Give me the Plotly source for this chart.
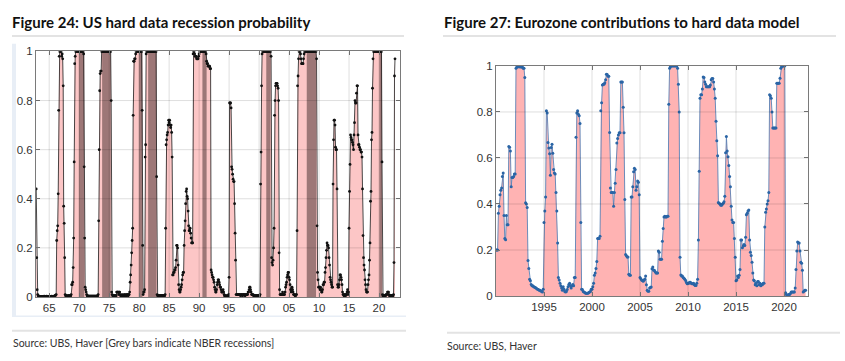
import numpy as np
import plotly.graph_objects as go

W, H = 845, 361

# ---------------- data ----------------
us_first_year = 1962
us_first_month = 11
us_prob = [
    0.44, 0.16,
    0.03, 0.01, 0.005, 0.003, 0.002, 0.002, 0.002, 0.002, 0.002, 0.002, 0.002, 0.002,
    0.002, 0.002, 0.003, 0.002, 0.002, 0.002, 0.002, 0.003, 0.002, 0.002, 0.002, 0.002,
    0.002, 0.002, 0.002, 0.002, 0.002, 0.003, 0.002, 0.002, 0.002, 0.002, 0.003, 0.004,
    0.005, 0.008, 0.01, 0.23, 0.27, 0.29, 0.42, 0.76, 0.98, 1.0, 1.0, 1.0,
    1.0, 0.98, 0.99, 0.97, 0.86, 0.37, 0.30, 0.16, 0.01, 0.005, 0.004, 0.004,
    0.004, 0.004, 0.004, 0.005, 0.005, 0.004, 0.004, 0.005, 0.01, 0.05, 0.05, 0.06,
    0.12, 0.24, 0.55, 0.95, 0.98, 1.0, 1.0, 1.0, 1.0, 1.0, 1.0, 1.0,
    1.0, 1.0, 1.0, 1.0, 1.0, 1.0, 1.0, 1.0, 1.0, 0.99, 0.53, 0.24,
    0.04, 0.03, 0.02, 0.01, 0.005, 0.004, 0.003, 0.003, 0.003, 0.003, 0.003, 0.003,
    0.003, 0.003, 0.003, 0.003, 0.003, 0.003, 0.003, 0.003, 0.003, 0.003, 0.003, 0.003,
    0.003, 0.005, 0.01, 0.31, 0.60, 0.84, 0.91, 0.92, 0.92, 1.0, 1.0, 1.0,
    1.0, 1.0, 1.0, 1.0, 1.0, 1.0, 1.0, 1.0, 1.0, 1.0, 1.0, 1.0,
    1.0, 1.0, 1.0, 1.0, 0.80, 0.02, 0.01, 0.005, 0.005, 0.005, 0.005, 0.005,
    0.005, 0.005, 0.005, 0.02, 0.02, 0.02, 0.02, 0.01, 0.02, 0.02, 0.01, 0.005,
    0.005, 0.01, 0.005, 0.005, 0.01, 0.005, 0.005, 0.01, 0.01, 0.005, 0.005, 0.01,
    0.01, 0.01, 0.005, 0.01, 0.01, 0.02, 0.06, 0.09, 0.13, 0.18, 0.23, 0.28,
    0.74, 0.96, 0.96, 0.97, 0.97, 0.99, 1.0, 1.0, 1.0, 1.0, 1.0, 1.0,
    1.0, 1.0, 1.0, 1.0, 1.0, 1.0, 0.76, 0.21, 0.01, 0.02, 0.02, 0.03,
    0.57, 0.62, 0.99, 1.0, 1.0, 1.0, 1.0, 1.0, 1.0, 1.0, 1.0, 1.0,
    1.0, 1.0, 1.0, 1.0, 1.0, 1.0, 1.0, 1.0, 1.0, 1.0, 1.0, 0.49,
    0.01, 0.005, 0.005, 0.005, 0.005, 0.005, 0.005, 0.005, 0.005, 0.005, 0.005, 0.005,
    0.005, 0.005, 0.005, 0.005, 0.01, 0.28, 0.62, 0.64, 0.66, 0.67, 0.70, 0.72,
    0.71, 0.72, 0.70, 0.69, 0.70, 0.67, 0.57, 0.09, 0.09, 0.10, 0.10, 0.11,
    0.11, 0.12, 0.15, 0.21, 0.21, 0.20, 0.13, 0.05, 0.03, 0.02, 0.02, 0.03,
    0.04, 0.05, 0.07, 0.09, 0.10, 0.10, 0.21, 0.27, 0.31, 0.38, 0.43, 0.44,
    0.41, 0.40, 0.35, 0.29, 0.27, 0.27, 0.28, 0.26, 0.24, 0.22, 0.22, 0.22,
    0.99, 1.0, 1.0, 0.99, 0.98, 0.98, 0.98, 0.97, 0.97, 0.97, 0.97, 0.98,
    0.99, 1.0, 1.0, 1.0, 1.0, 1.0, 1.0, 1.0, 1.0, 1.0, 1.0, 1.0,
    1.0, 1.0, 0.99, 0.96, 0.95, 0.95, 0.94, 0.94, 0.94, 0.94, 0.93, 0.93,
    0.11, 0.10, 0.09, 0.08, 0.08, 0.07, 0.06, 0.04, 0.03, 0.02, 0.02, 0.03,
    0.05, 0.06, 0.07, 0.07, 0.06, 0.05, 0.04, 0.04, 0.03, 0.02, 0.02, 0.02,
    0.03, 0.02, 0.01, 0.005, 0.004, 0.004, 0.004, 0.004, 0.004, 0.004, 0.004, 0.01,
    0.08, 0.79, 0.79, 0.79, 0.77, 0.53, 0.52, 0.50, 0.48, 0.47, 0.47, 0.38,
    0.26, 0.15, 0.01, 0.01, 0.01, 0.01, 0.01, 0.01, 0.01, 0.01, 0.01, 0.005,
    0.01, 0.01, 0.01, 0.005, 0.01, 0.01, 0.01, 0.01, 0.005, 0.01, 0.01, 0.01,
    0.01, 0.01, 0.02, 0.02, 0.03, 0.04, 0.04, 0.03, 0.02, 0.01, 0.01, 0.01,
    0.01, 0.005, 0.005, 0.005, 0.005, 0.005, 0.005, 0.005, 0.005, 0.005, 0.005, 0.005,
    0.005, 0.005, 0.01, 0.46, 0.59, 0.86, 0.99, 1.0, 1.0, 1.0, 1.0, 1.0,
    1.0, 1.0, 1.0, 1.0, 1.0, 1.0, 1.0, 1.0, 1.0, 1.0, 1.0, 1.0,
    0.98, 0.16, 0.14, 0.13, 0.15, 0.20, 0.28, 0.74, 0.80, 0.86, 0.87, 0.87,
    0.87, 0.86, 0.85, 0.80, 0.18, 0.03, 0.01, 0.01, 0.01, 0.01, 0.01, 0.02,
    0.01, 0.01, 0.01, 0.01, 0.02, 0.04, 0.05, 0.06, 0.08, 0.09, 0.10, 0.10,
    0.08, 0.07, 0.05, 0.03, 0.02, 0.03, 0.04, 0.03, 0.02, 0.01, 0.01, 0.01,
    0.005, 0.005, 0.01, 0.01, 0.27, 0.86, 0.90, 0.97, 1.0, 1.0, 1.0, 0.99,
    0.97, 0.95, 0.95, 0.95, 0.95, 0.97, 0.99, 1.0, 1.0, 1.0, 1.0, 1.0,
    1.0, 1.0, 1.0, 1.0, 1.0, 1.0, 1.0, 1.0, 1.0, 1.0, 1.0, 1.0,
    1.0, 1.0, 1.0, 1.0, 1.0, 1.0, 1.0, 0.97, 0.29, 0.10, 0.07, 0.04,
    0.04, 0.04, 0.03, 0.04, 0.03, 0.02, 0.02, 0.03, 0.05, 0.05, 0.06, 0.06,
    0.10, 0.12, 0.16, 0.19, 0.22, 0.21, 0.21, 0.20, 0.16, 0.13, 0.08, 0.07,
    0.06, 0.05, 0.04, 0.04, 0.46, 0.64, 0.72, 0.72, 0.70, 0.61, 0.60, 0.60,
    0.44, 0.05, 0.04, 0.04, 0.05, 0.07, 0.09, 0.09, 0.08, 0.07, 0.05, 0.02,
    0.01, 0.01, 0.005, 0.01, 0.01, 0.005, 0.01, 0.01, 0.02, 0.03, 0.01, 0.02,
    0.28, 0.43, 0.54, 0.66, 0.65, 0.64, 0.64, 0.63, 0.62, 0.60, 0.66, 0.71,
    0.80, 0.79, 0.79, 0.83, 0.86, 0.86, 0.66, 0.62, 0.62, 0.61, 0.60, 0.60,
    0.59, 0.59, 0.57, 0.44, 0.25, 0.16, 0.13, 0.11, 0.07, 0.05, 0.03, 0.02,
    0.02, 0.02, 0.05, 0.07, 0.09, 0.15, 0.22, 0.39, 0.43, 0.64, 0.67, 0.85,
    0.97, 1.0, 1.0, 1.0, 1.0, 1.0, 1.0, 1.0, 1.0, 1.0, 1.0, 1.0,
    1.0, 1.0, 1.0, 1.0, 1.0, 1.0, 0.55, 0.01, 0.005, 0.005, 0.005, 0.005,
    0.005, 0.005, 0.01, 0.01, 0.01, 0.02, 0.02, 0.02, 0.01, 0.005, 0.005, 0.005,
    0.005, 0.005, 0.005, 0.005, 0.005, 0.01, 0.14, 0.90, 0.97,
]

nber_start = [1969.95, 1973.83, 1979.95, 1981.5, 1990.55, 2001.2, 2007.95, 2020.05]
nber_end = [1970.85, 1975.25, 1980.55, 1982.9, 1991.25, 2001.9, 2009.5, 2020.5]

us_tick_years = [1965, 1970, 1975, 1980, 1985, 1990, 1995, 2000, 2005, 2010, 2015, 2020]
us_tick_text = ["65", "70", "75", "80", "85", "90", "95", "00", "05", "10", "15", "20"]

ez_first_year = 1990
ez_first_month = 1
ez_prob = [
    0.20, 0.20, 0.20, 0.36, 0.39, 0.44, 0.46, 0.47, 0.52, 0.535, 0.35, 0.25,
    0.245, 0.35, 0.31, 0.31, 0.65, 0.647, 0.63, 0.475, 0.515, 0.515, 0.52, 0.53,
    0.53, 0.99, 1.0, 0.995, 1.0, 1.0, 0.995, 1.0, 0.995, 0.995, 0.99, 0.99,
    0.95, 0.405, 0.40, 0.385, 0.154, 0.12, 0.073, 0.066, 0.05, 0.045, 0.045, 0.04,
    0.039, 0.037, 0.035, 0.032, 0.03, 0.028, 0.025, 0.025, 0.022, 0.021, 0.017, 0.03,
    0.32, 0.37, 0.43, 0.805, 0.796, 0.667, 0.643, 0.618, 0.525, 0.646, 0.66, 0.62,
    0.55, 0.535, 0.53, 0.45, 0.37, 0.23, 0.08, 0.07, 0.055, 0.045, 0.035, 0.025,
    0.04, 0.03, 0.02, 0.017, 0.02, 0.028, 0.04, 0.05, 0.055, 0.045, 0.035, 0.045,
    0.05, 0.045, 0.08, 0.08, 0.69, 0.796, 0.805, 0.79, 0.784, 0.75, 0.32, 0.03,
    0.028, 0.02, 0.017, 0.015, 0.012, 0.012, 0.012, 0.012, 0.015, 0.017, 0.02, 0.03,
    0.03, 0.04, 0.055, 0.09, 0.10, 0.12, 0.15, 0.25, 0.25, 0.25, 0.26, 0.805,
    0.84, 0.917, 0.92, 0.92, 0.927, 0.94, 0.964, 0.963, 0.955, 0.955, 0.711, 0.47,
    0.45, 0.45, 0.45, 0.39, 0.45, 0.49, 0.55, 0.665, 0.685, 0.70, 0.71, 0.71,
    0.93, 0.93, 0.93, 0.82, 0.71, 0.42, 0.18, 0.175, 0.17, 0.17, 0.095, 0.09,
    0.09, 0.43, 0.43, 0.475, 0.54, 0.555, 0.55, 0.46, 0.475, 0.50, 0.495, 0.44,
    0.08, 0.075, 0.07, 0.068, 0.064, 0.07, 0.073, 0.087, 0.049, 0.025, 0.021, 0.021,
    0.035, 0.037, 0.039, 0.119, 0.126, 0.112, 0.112, 0.105, 0.10, 0.10, 0.10, 0.196,
    0.19, 0.16, 0.16, 0.16, 0.238, 0.294, 0.343, 0.347, 0.344, 0.344, 0.347, 0.347,
    0.833, 0.99, 0.997, 1.0, 1.0, 1.0, 1.0, 1.0, 1.0, 1.0, 1.0, 0.99,
    0.92, 0.80, 0.168, 0.091, 0.087, 0.087, 0.081, 0.077, 0.073, 0.067, 0.059, 0.053,
    0.056, 0.056, 0.06, 0.06, 0.056, 0.053, 0.053, 0.056, 0.049, 0.046, 0.046, 0.056,
    0.073, 0.244, 0.542, 0.86, 0.875, 0.875, 0.90, 0.952, 0.95, 0.93, 0.92, 0.91,
    0.91, 0.91, 0.91, 0.91, 0.917, 0.94, 0.945, 0.945, 0.93, 0.90, 0.86, 0.76,
    0.675, 0.61, 0.406, 0.403, 0.40, 0.395, 0.395, 0.40, 0.403, 0.41, 0.434, 0.623,
    0.693, 0.63, 0.605, 0.567, 0.52, 0.475, 0.39, 0.33, 0.32, 0.32, 0.25, 0.168,
    0.066, 0.07, 0.087, 0.081, 0.09, 0.115, 0.244, 0.244, 0.21, 0.217, 0.224, 0.22,
    0.255, 0.353, 0.36, 0.37, 0.374, 0.244, 0.19, 0.176, 0.147, 0.10, 0.07, 0.066,
    0.049, 0.056, 0.045, 0.063, 0.063, 0.049, 0.056, 0.045, 0.05, 0.049, 0.056, 0.056,
    0.30, 0.364, 0.378, 0.40, 0.414, 0.45, 0.875, 0.87, 0.86, 0.80, 0.73, 0.73,
    0.73, 0.73, 0.73, 0.925, 0.925, 0.925, 0.925, 0.946, 0.99, 0.996, 1.0, 1.0,
    1.0, 1.0, 0.014, 0.007, 0.003, 0.005, 0.007, 0.007, 0.011, 0.017, 0.017, 0.017,
    0.017, 0.017, 0.035, 0.115, 0.196, 0.235, 0.23, 0.23, 0.196, 0.147, 0.143, 0.112,
    0.017, 0.021, 0.025, 0.025,
]

ez_tick_years = [1995, 2000, 2005, 2010, 2015, 2020]
ez_tick_text = ["1995", "2000", "2005", "2010", "2015", "2020"]

prob_ticks = [0, 0.2, 0.4, 0.6, 0.8, 1]
prob_tick_text = ["0", "0.2", "0.4", "0.6", "0.8", "1"]

assert len(us_prob) == 719, len(us_prob)
assert len(ez_prob) == 388, len(ez_prob)

# monthly time axes (decimal years)
us_x = us_first_year + (us_first_month - 1) / 12 + np.arange(len(us_prob)) / 12
ez_x = ez_first_year + (ez_first_month - 1) / 12 + np.arange(len(ez_prob)) / 12


def px(x):
    return x / W


def py(y):
    return 1 - y / H


fig = go.Figure()

# --- left (US) ---
fig.add_trace(go.Scatter(x=us_x, y=us_prob, mode="none", fill="tozeroy",
                         fillcolor="#fcc6c6", xaxis="x", yaxis="y", hoverinfo="skip"))
rx, ry = [], []
for s, e in zip(nber_start, nber_end):
    rx += [s, e, e, s, s, None]
    ry += [0, 0, 1, 1, 0, None]
fig.add_trace(go.Scatter(x=rx, y=ry, mode="none", fill="toself", fillcolor="#9d7777",
                         xaxis="x", yaxis="y", hoverinfo="skip"))
fig.add_trace(go.Scatter(x=us_x, y=us_prob, mode="lines+markers",
                         line=dict(color="#1a1a1a", width=0.8),
                         marker=dict(color="#111111", size=2.8),
                         xaxis="x", yaxis="y"))

# --- right (Eurozone) ---
fig.add_trace(go.Scatter(x=ez_x, y=ez_prob, mode="none", fill="tozeroy",
                         fillcolor="#ffb3b3", xaxis="x2", yaxis="y2", hoverinfo="skip"))
fig.add_trace(go.Scatter(x=ez_x, y=ez_prob, mode="lines+markers",
                         line=dict(color="#5b82b5", width=0.9),
                         marker=dict(color="#2a65a6", size=3),
                         xaxis="x2", yaxis="y2"))

tick_font = dict(family="Liberation Sans, Arial, sans-serif", size=11.5, color="#333333")
axis_common = dict(showgrid=False, zeroline=False, showline=True, linecolor="#7a7a7a",
                   linewidth=1, mirror="ticks", ticks="inside", ticklen=4,
                   tickcolor="#7a7a7a", tickfont=tick_font, fixedrange=True)

# plot areas in pixels
L = dict(x0=36, x1=400, y0=47, y1=301)
R = dict(x0=496, x1=808, y0=62, y1=300)

fig.update_layout(
    width=W, height=H, margin=dict(l=0, r=0, t=0, b=0),
    paper_bgcolor="white", plot_bgcolor="white", showlegend=False,
    xaxis=dict(domain=[px(L["x0"]), px(L["x1"])], range=[1962.8, 2023.5],
               tickvals=us_tick_years, ticktext=us_tick_text, anchor="y", **axis_common),
    yaxis=dict(domain=[py(L["y1"]), py(L["y0"])], range=[0, 1],
               tickvals=prob_ticks, ticktext=prob_tick_text, anchor="x", **axis_common),
    xaxis2=dict(domain=[px(R["x0"]), px(R["x1"])], range=[1990.0, 2022.5],
                tickvals=ez_tick_years, ticktext=ez_tick_text, anchor="y2", **axis_common),
    yaxis2=dict(domain=[py(R["y1"]), py(R["y0"])], range=[0, 1],
                tickvals=prob_ticks, ticktext=prob_tick_text, anchor="x2", **axis_common),
)

shapes = []
grid_col = "rgba(0,0,0,0.13)"
for t in us_tick_years:
    shapes.append(dict(type="line", xref="x", yref="y", x0=t, x1=t, y0=0, y1=1,
                       line=dict(color=grid_col, width=1), layer="above"))
for v in prob_ticks[1:-1]:
    shapes.append(dict(type="line", xref="x", yref="y", x0=1962.8, x1=2023.5, y0=v, y1=v,
                       line=dict(color=grid_col, width=1), layer="above"))
for t in ez_tick_years:
    shapes.append(dict(type="line", xref="x2", yref="y2", x0=t, x1=t, y0=0, y1=1,
                       line=dict(color=grid_col, width=1), layer="above"))
for v in prob_ticks[1:-1]:
    shapes.append(dict(type="line", xref="x2", yref="y2", x0=1990.0, x1=2022.5, y0=v, y1=v,
                       line=dict(color=grid_col, width=1), layer="above"))

# decorative separators / frame
sep = "#e3e3e3"
shapes += [
    dict(type="line", xref="paper", yref="paper", x0=px(12), x1=px(404), y0=py(31), y1=py(31),
         line=dict(color=sep, width=2)),
    dict(type="line", xref="paper", yref="paper", x0=px(443), x1=px(836), y0=py(31), y1=py(31),
         line=dict(color=sep, width=2)),
    dict(type="line", xref="paper", yref="paper", x0=px(12), x1=px(406), y0=py(336), y1=py(336),
         line=dict(color=sep, width=2)),
    dict(type="line", xref="paper", yref="paper", x0=px(447), x1=px(840), y0=py(338), y1=py(338),
         line=dict(color=sep, width=2)),
    dict(type="rect", xref="paper", yref="paper", x0=px(12), x1=px(16), y0=py(321), y1=py(39),
         line=dict(width=0), fillcolor="#e8eef6", layer="below"),
    dict(type="line", xref="paper", yref="paper", x0=px(12), x1=px(406), y0=py(321), y1=py(321),
         line=dict(color="#e8eef6", width=1.5)),
]
fig.update_layout(shapes=shapes)

title_font = dict(family="Lato, Noto Sans, sans-serif", size=15, color="#111111")
src_font = dict(family="Lato, Noto Sans, sans-serif", size=10.5, color="#333333")
fig.update_layout(annotations=[
    dict(text="<b>Figure 24: US hard data recession probability</b>", xref="paper", yref="paper",
         x=px(10), y=py(17), xanchor="left", yanchor="middle", showarrow=False, font=title_font),
    dict(text="<b>Figure 27: Eurozone contributions to hard data model</b>", xref="paper", yref="paper",
         x=px(442), y=py(17), xanchor="left", yanchor="middle", showarrow=False, font=title_font),
    dict(text="Source: UBS, Haver [Grey bars indicate NBER recessions]", xref="paper", yref="paper",
         x=px(11), y=py(349), xanchor="left", yanchor="middle", showarrow=False, font=src_font),
    dict(text="Source: UBS, Haver", xref="paper", yref="paper",
         x=px(445), y=py(352), xanchor="left", yanchor="middle", showarrow=False, font=src_font),
])

fig.write_html("out.html", config={"displayModeBar": False},
               post_script="document.body.style.margin='0px';document.body.style.padding='0px';document.body.style.overflow='hidden';")
